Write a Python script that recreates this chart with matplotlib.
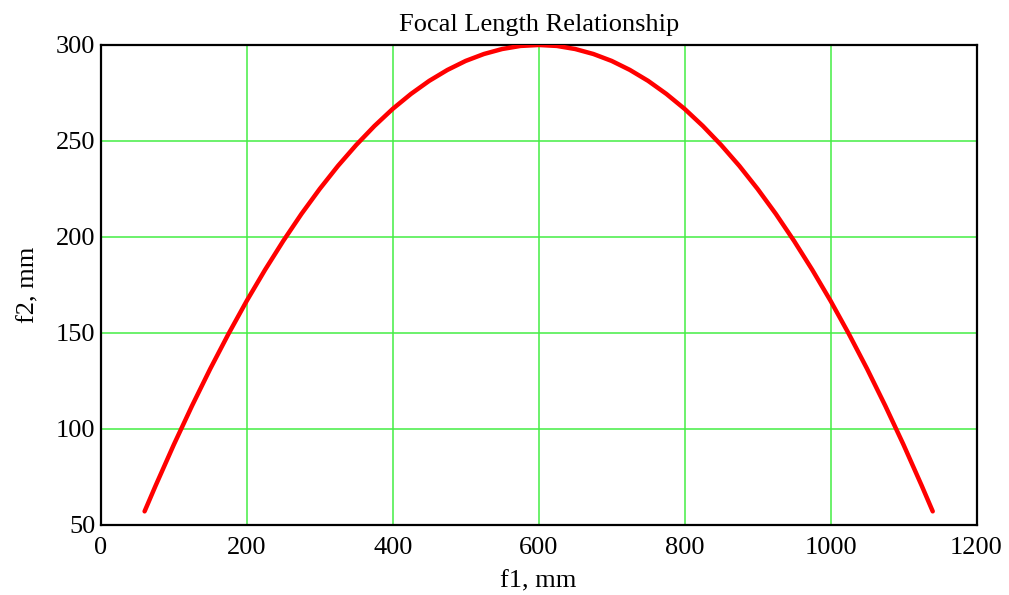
import matplotlib
matplotlib.use("Agg")
import matplotlib.pyplot as plt

# focal length pairs (mm)
f1_mm = [60, 75, 100, 125, 150, 175, 200, 225, 250, 275, 300, 325, 350, 375,
         400, 425, 450, 475, 500, 525, 550, 575, 600,
         625, 650, 675, 700, 725, 750, 775, 800, 825, 850, 875, 900,
         925, 950, 975, 1000, 1025, 1050, 1075, 1100, 1125, 1140]
f2_mm = [57.0, 70.3, 91.7, 112.0, 131.3, 149.5, 166.7, 182.8, 197.9, 212.0, 225.0, 237.0, 247.9, 257.8,
         266.7, 274.5, 281.3, 287.0, 291.7, 295.3, 297.9, 299.5, 300.0,
         299.5, 297.9, 295.3, 291.7, 287.0, 281.3, 274.5, 266.7, 257.8, 247.9, 237.0, 225.0,
         212.0, 197.9, 182.8, 166.7, 149.5, 131.3, 112.0, 91.7, 70.3, 57.0]

x_ticks = [0, 200, 400, 600, 800, 1000, 1200]
y_ticks = [50, 100, 150, 200, 250, 300]

plt.rcParams['font.family'] = ['Liberation Serif', 'DejaVu Serif']

fig = plt.figure(figsize=(10.09, 5.95), dpi=100)
ax = fig.add_axes([0.0999, 0.118, 0.8679, 0.8064])

ax.plot(f1_mm, f2_mm, color='#ff0000', linewidth=3.2, solid_capstyle='round',
        solid_joinstyle='round', zorder=3)

ax.set_xlim(0, 1200)
ax.set_ylim(50, 300)
ax.set_xticks(x_ticks)
ax.set_yticks(y_ticks)
ax.grid(True, color='#44ee44', linewidth=1.1)
ax.tick_params(length=0, labelsize=19)
ax.tick_params(axis='x', pad=9)
ax.tick_params(axis='y', pad=4)

for s in ax.spines.values():
    s.set_linewidth(1.6)
    s.set_color('black')

ax.set_title("Focal Length Relationship", fontsize=19, pad=10)
ax.set_xlabel("f1, mm", fontsize=19, labelpad=8)
ax.set_ylabel("f2, mm", fontsize=19, labelpad=12)

fig.savefig("out.png", dpi=100)
